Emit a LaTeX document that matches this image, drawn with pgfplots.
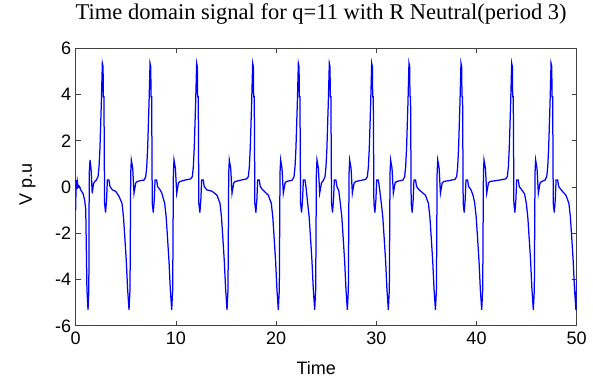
\documentclass[border=0pt]{standalone}
\usepackage{fontspec}
\setmainfont{Liberation Sans}
\newfontfamily\titlefont{Liberation Serif}
\usepackage{pgfplots}
\pgfplotsset{compat=1.18}
\begin{document}
\begin{tikzpicture}
\begin{axis}[
  at={(0,0)}, anchor=south west,
  scale only axis, width=501pt, height=277.7pt,
  xmin=0, xmax=50, ymin=-6, ymax=6,
  xtick={0,10,20,30,40,50}, ytick={-6,-4,-2,0,2,4,6},
  tick align=inside, major tick length=5pt,
  xtick pos=both, ytick pos=both,
  axis line style={black!75, line width=0.8pt},
  tick style={black!75, line width=0.8pt},
  /pgf/number format/assume math mode=true,
  tick label style={font=\fontsize{18}{20}\selectfont},
  xticklabel style={yshift=-3pt},
  yticklabel style={xshift=-1pt},
  title={\titlefont\fontsize{22.5}{26}\selectfont Time domain signal for q=11 with R Neutral(period 3)},
  title style={at={(axis description cs:0.49,1)}, anchor=base, yshift=23pt},
  xlabel={Time},
  xlabel style={font=\fontsize{18}{20}\selectfont, at={(axis description cs:0.48,0)}, anchor=base, yshift=-49pt},
  ylabel={V p.u},
  ylabel style={font=\fontsize{18}{20}\selectfont, at={(axis description cs:-0.096,0.51)}, anchor=center},
]
\addplot[color={rgb,255:red,0;green,0;blue,255}, line width=1.25pt] coordinates {
(0,-1.0) (0.04,0.3) (0.1,-0.1) (0.16,0.25) (0.24,0.0) (0.32,0.05) (0.5,-0.12) (0.75,-0.3) (0.9,-0.6) (1.0,-0.95) (1.05,-2.3) (1.12,-4.4) (1.23,-5.31)
(1.31,-4.44) (1.35,0.6) (1.43,1.17) (1.53,0.8) (1.65,-0.27) (1.78,0.15) (1.93,0.25)
(2.06,0.3) (2.23,0.45) (2.33,0.88) (2.42,1.68) (2.56,3.65) (2.66,5.35) (2.73,5.2) (2.76,3.9) (2.82,3.9) (2.88,-0.7) (2.98,-1.1) (3.08,-0.55) (3.16,0.3) (3.32,0.3) (3.42,0.02) (3.66,-0.12)
(4.0,-0.19) (4.32,-0.4) (4.62,-0.7) (4.77,-1.3) (4.92,-2.3) (5.05,-3.2) (5.18,-4.4) (5.32,-5.31) (5.42,-4.44) (5.49,0.6) (5.55,1.17) (5.69,0.81) (5.82,-0.27) (5.99,0.17) (6.15,0.24)
(6.5,0.28) (6.82,0.3) (6.99,0.45) (7.09,0.88) (7.18,1.68) (7.32,3.65) (7.42,5.35) (7.49,5.2) (7.52,3.9) (7.58,3.9) (7.64,-0.7) (7.74,-1.1) (7.84,-0.55) (7.92,0.3) (8.08,0.3) (8.18,0.02) (8.42,-0.12)
(8.58,-0.25) (8.88,-0.7) (9.03,-1.3) (9.18,-2.3) (9.31,-3.2) (9.44,-4.4) (9.58,-5.31) (9.68,-4.44) (9.75,0.6) (9.81,1.17) (9.95,0.81) (10.08,-0.27) (10.25,0.17) (10.41,0.24)
(10.9,0.3) (11.47,0.35) (11.64,0.45) (11.74,0.88) (11.83,1.68) (11.97,3.65) (12.07,5.35) (12.14,5.2) (12.17,3.9) (12.23,3.9) (12.29,-0.7) (12.39,-1.1) (12.49,-0.55) (12.57,0.3) (12.73,0.3) (12.83,0.02) (13.07,-0.12)
(13.6,-0.18) (14.1,-0.35) (14.4,-0.7) (14.55,-1.3) (14.7,-2.3) (14.83,-3.2) (14.96,-4.4) (15.1,-5.31) (15.2,-4.44) (15.27,0.6) (15.33,1.17) (15.47,0.81) (15.6,-0.27) (15.77,0.17) (15.93,0.24)
(16.5,0.3) (17.06,0.35) (17.23,0.45) (17.33,0.88) (17.42,1.68) (17.56,3.65) (17.66,5.35) (17.73,5.2) (17.76,3.9) (17.82,3.9) (17.88,-0.7) (17.98,-1.1) (18.08,-0.55) (18.16,0.3) (18.32,0.3) (18.42,0.02) (18.66,-0.12)
(19.22,-0.35) (19.52,-0.7) (19.67,-1.3) (19.82,-2.3) (19.95,-3.2) (20.08,-4.4) (20.22,-5.31) (20.32,-4.44) (20.39,0.6) (20.45,1.17) (20.59,0.81) (20.72,-0.27) (20.89,0.17) (21.05,0.24)
(21.62,0.3) (21.79,0.45) (21.89,0.88) (21.98,1.68) (22.12,3.65) (22.22,5.35) (22.29,5.2) (22.32,3.9) (22.38,3.9) (22.44,-0.7) (22.54,-1.1) (22.64,-0.55) (22.72,0.3) (22.88,0.3) (22.98,0.02)
(23.15,-0.7) (23.3,-1.3) (23.45,-2.3) (23.58,-3.2) (23.71,-4.4) (23.85,-5.31) (23.95,-4.44) (24.02,0.6) (24.08,1.17) (24.22,0.81) (24.35,-0.27) (24.52,0.17)
(24.71,0.28) (24.88,0.45) (24.98,0.88) (25.07,1.68) (25.21,3.65) (25.31,5.35) (25.38,5.2) (25.41,3.9) (25.47,3.9) (25.53,-0.7) (25.63,-1.1) (25.73,-0.55) (25.81,0.3) (25.97,0.3) (26.07,0.02)
(26.25,-0.15) (26.41,-0.7) (26.56,-1.3) (26.71,-2.3) (26.84,-3.2) (26.97,-4.4) (27.11,-5.31) (27.21,-4.44) (27.28,0.6) (27.34,1.17) (27.48,0.81) (27.61,-0.27) (27.78,0.17) (27.94,0.24)
(28.4,0.28) (28.94,0.33) (29.11,0.45) (29.21,0.88) (29.3,1.68) (29.44,3.65) (29.54,5.35) (29.61,5.2) (29.64,3.9) (29.7,3.9) (29.76,-0.7) (29.86,-1.1) (29.96,-0.55) (30.04,0.3) (30.2,0.3) (30.3,0.02)
(30.5,-0.7) (30.65,-1.3) (30.8,-2.3) (30.93,-3.2) (31.06,-4.4) (31.2,-5.31) (31.3,-4.44) (31.37,0.6) (31.43,1.17) (31.57,0.81) (31.7,-0.27) (31.87,0.17) (32.03,0.24)
(32.66,0.3) (32.83,0.45) (32.93,0.88) (33.02,1.68) (33.16,3.65) (33.26,5.35) (33.33,5.2) (33.36,3.9) (33.42,3.9) (33.48,-0.7) (33.58,-1.1) (33.68,-0.55) (33.76,0.3) (33.92,0.3) (34.02,0.02) (34.26,-0.12)
(34.9,-0.35) (35.2,-0.7) (35.35,-1.3) (35.5,-2.3) (35.63,-3.2) (35.76,-4.4) (35.9,-5.31) (36.0,-4.44) (36.07,0.6) (36.13,1.17) (36.27,0.81) (36.4,-0.27) (36.57,0.17) (36.73,0.24)
(37.3,0.28) (37.85,0.33) (38.02,0.45) (38.12,0.88) (38.21,1.68) (38.35,3.65) (38.45,5.35) (38.52,5.2) (38.55,3.9) (38.61,3.9) (38.67,-0.7) (38.77,-1.1) (38.87,-0.55) (38.95,0.3) (39.11,0.3) (39.21,0.02) (39.45,-0.12)
(39.65,-0.35) (39.82,-0.7) (39.97,-1.3) (40.12,-2.3) (40.25,-3.2) (40.38,-4.4) (40.52,-5.31) (40.62,-4.44) (40.69,0.6) (40.75,1.17) (40.89,0.81) (41.02,-0.27) (41.19,0.17) (41.35,0.24)
(42.3,0.3) (42.91,0.35) (43.08,0.45) (43.18,0.88) (43.27,1.68) (43.41,3.65) (43.51,5.35) (43.58,5.2) (43.61,3.9) (43.67,3.9) (43.73,-0.7) (43.83,-1.1) (43.93,-0.55) (44.01,0.3) (44.17,0.3) (44.27,0.02) (44.51,-0.12)
(44.8,-0.3) (44.97,-0.7) (45.12,-1.3) (45.27,-2.3) (45.4,-3.2) (45.53,-4.4) (45.67,-5.31) (45.77,-4.44) (45.84,0.6) (45.9,1.17) (46.04,0.81) (46.17,-0.27) (46.34,0.17) (46.5,0.24)
(46.84,0.3) (47.01,0.45) (47.11,0.88) (47.2,1.68) (47.34,3.65) (47.44,5.35) (47.51,5.2) (47.54,3.9) (47.6,3.9) (47.66,-0.7) (47.76,-1.1) (47.86,-0.55) (47.94,0.3) (48.1,0.3) (48.2,0.02) (48.44,-0.12)
(48.92,-0.35) (49.22,-0.7) (49.37,-1.3) (49.52,-2.3) (49.65,-3.2) (49.78,-4.4) (49.92,-5.31) (50.0,-4.0)
};
\end{axis}
\path[use as bounding box] (-75.7pt,-51.3pt) rectangle (517.3pt,322.7pt);
\end{tikzpicture}
\end{document}
